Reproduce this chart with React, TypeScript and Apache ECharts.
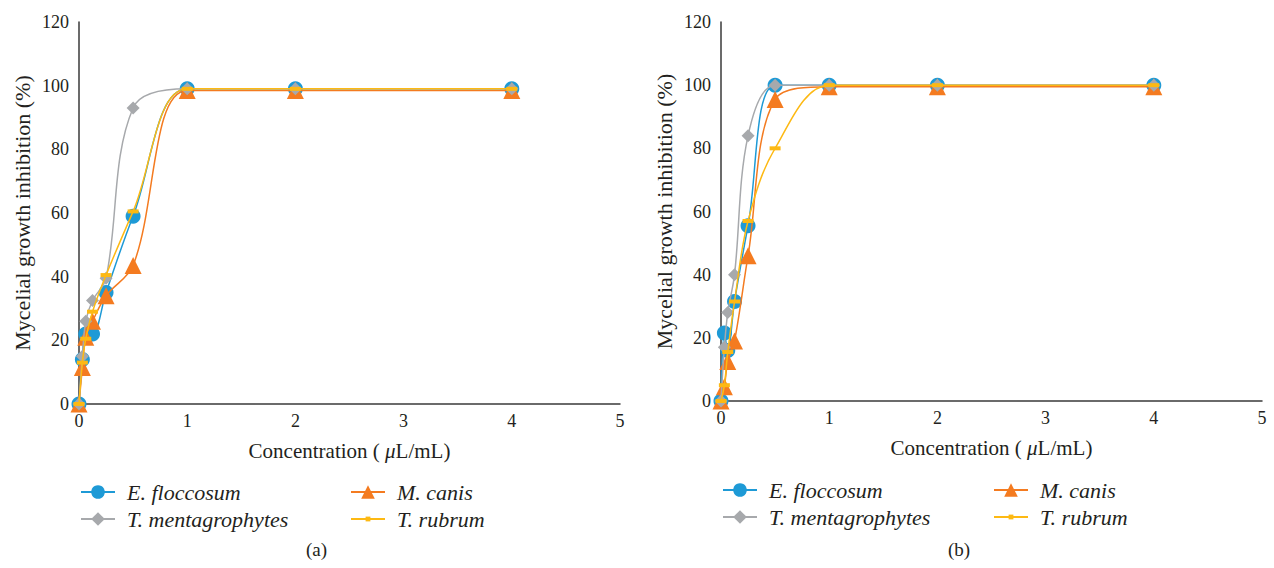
import React, { useEffect, useRef } from "react";
import * as echarts from "echarts";

const concentrations = [0, 0.03125, 0.0625, 0.125, 0.25, 0.5, 1, 2, 4];
const seriesNames = ["E. floccosum", "M. canis", "T. mentagrophytes", "T. rubrum"];

// Panel (a)
const aFloccosum = [0, 14, 22, 22, 35, 59, 99, 99, 99];
const aCanis = [0, 11.5, 21, 26, 34, 43.5, 98.5, 98.5, 98.5];
const aMentagrophytes = [0, 15, 26, 32.5, 39.5, 93, 99, 99, 99];
const aRubrum = [0, 13, 20.5, 29, 40.5, 60.5, 99, 99, 99];

// Panel (b)
const bFloccosum = [0, 21.5, 16, 31.5, 55.5, 100, 100, 100, 100];
const bCanis = [0, 4.5, 12.5, 19, 46, 95.5, 99.5, 99.5, 99.5];
const bMentagrophytes = [0, 17, 28, 40, 84, 100, 100, 100, 100];
const bRubrum = [0, 5, 15.5, 31.5, 57, 80, 100, 100, 100];

const xTicks = [0, 1, 2, 3, 4, 5];
const yTicks = [0, 20, 40, 60, 80, 100, 120];
const captions = ["(a)", "(b)"];

const COLORS = ["#1E9AD6", "#F47B20", "#A7A9AC", "#FDB913"];
const SYMBOLS: any[] = ["circle", "triangle", "diamond", "rect"];
const SIZES: any[] = [15, 17, 13, [11, 4]];
const FONT = "Liberation Serif";
const TEXT = "#231F20";

export default function App() {
  const ref = useRef<HTMLDivElement>(null);
  useEffect(() => {
    if (!ref.current) return;
    const chart = echarts.init(ref.current, undefined, { renderer: "svg" });
    const panels = [
      [aFloccosum, aCanis, aMentagrophytes, aRubrum],
      [bFloccosum, bCanis, bMentagrophytes, bRubrum],
    ];
    const grids = [
      { left: 79, top: 22, width: 541, height: 382 },
      { left: 721, top: 22, width: 541, height: 379 },
    ];
    const mkX = (i: number) => ({
      type: "value",
      gridIndex: i,
      min: xTicks[0],
      max: xTicks[xTicks.length - 1],
      interval: 1,
      splitLine: { show: false },
      axisTick: { show: false },
      axisLine: { show: true, lineStyle: { color: "#3A3A3A", width: 1.5 } },
      axisLabel: { color: TEXT, fontFamily: FONT, fontSize: 18, margin: 8 },
      name: "Concentration ( {i|μ}L/mL)",
      nameLocation: "middle",
      nameGap: 36,
      nameTextStyle: {
        color: TEXT,
        fontFamily: FONT,
        fontSize: 21,
        rich: { i: { fontStyle: "italic", fontFamily: FONT, fontSize: 21, color: TEXT } },
      },
    });
    const mkY = (i: number) => ({
      type: "value",
      gridIndex: i,
      min: yTicks[0],
      max: yTicks[yTicks.length - 1],
      interval: 20,
      splitLine: { show: false },
      axisTick: { show: false },
      axisLine: { show: true, lineStyle: { color: "#3A3A3A", width: 1.5 } },
      axisLabel: { color: TEXT, fontFamily: FONT, fontSize: 18, margin: 10 },
      name: "Mycelial growth inhibition (%)",
      nameLocation: "middle",
      nameGap: 46,
      nameRotate: 90,
      nameTextStyle: { color: TEXT, fontFamily: FONT, fontSize: 22 },
    });
    const series: any[] = [];
    panels.forEach((p, pi) => {
      p.forEach((vals, si) => {
        series.push({
          type: "line",
          name: seriesNames[si],
          xAxisIndex: pi,
          yAxisIndex: pi,
          data: concentrations.map((c, k) => [c, vals[k]]),
          smooth: 0.35,
          symbol: SYMBOLS[si],
          symbolSize: SIZES[si],
          showAllSymbol: true,
          itemStyle: { color: COLORS[si] },
          lineStyle: { color: COLORS[si], width: 1.5 },
          z: 2 + si,
        });
      });
    });
    const legendPos = [
      [80, 481], [350, 481], [80, 508], [350, 508],
      [722, 479], [993, 479], [722, 506], [993, 506],
    ];
    const legends = legendPos.map((pos, i) => {
      const small = i % 4 === 3;
      return {
        left: pos[0],
        top: pos[1],
        padding: 0,
        data: [seriesNames[i % 4]],
        itemWidth: 34,
        itemHeight: small ? 6 : 17,
        selectedMode: false,
        textStyle: {
          color: TEXT,
          fontFamily: FONT,
          fontSize: 22,
          fontStyle: "italic",
          padding: [0, 0, 0, 7],
        },
      };
    });
    chart.setOption({
      animation: false,
      backgroundColor: "#ffffff",
      grid: grids,
      xAxis: [mkX(0), mkX(1)],
      yAxis: [mkY(0), mkY(1)],
      legend: legends,
      series,
      graphic: [
        {
          type: "text",
          left: 306,
          top: 540,
          style: { text: captions[0], fontFamily: FONT, fontSize: 19, fill: TEXT },
        },
        {
          type: "text",
          left: 948,
          top: 540,
          style: { text: captions[1], fontFamily: FONT, fontSize: 19, fill: TEXT },
        },
      ],
    });
    return () => chart.dispose();
  }, []);
  return <div ref={ref} style={{ width: 1274, height: 568, position: "absolute", left: 0, top: 0 }} />;
}
